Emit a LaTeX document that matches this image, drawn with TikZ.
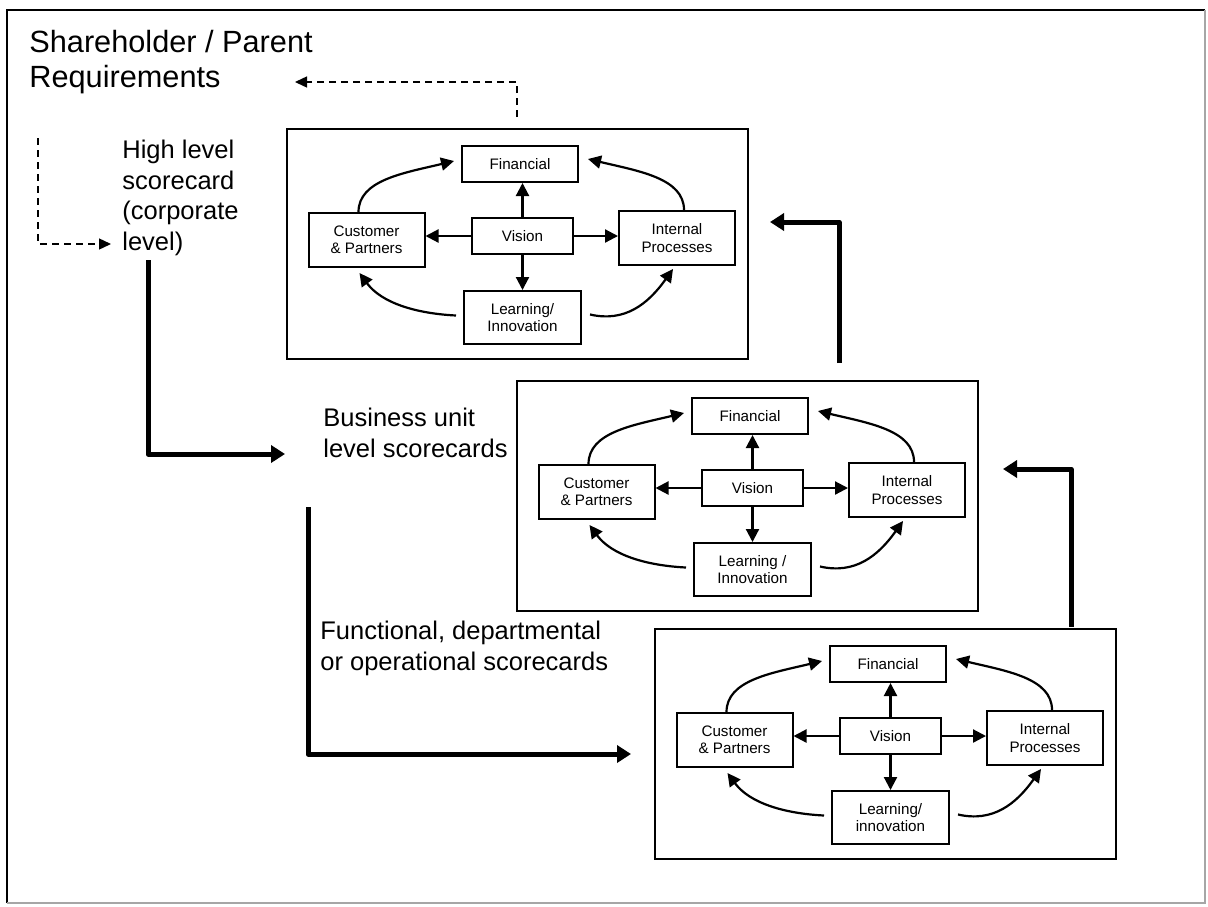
\documentclass[tikz,border=0pt]{standalone}
\usepackage{fontspec}
\setmainfont{Liberation Sans}
\usetikzlibrary{arrows.meta,calc}

\tikzset{
  panel/.style={draw, line width=0.9pt, minimum width=230.5pt, minimum height=115pt,
    inner sep=0pt, anchor=north west},
  cell/.style={draw, line width=1pt, align=center, inner sep=0pt,
    font=\fontsize{7.6}{8.6}\selectfont},
  link/.style={line width=1.1pt, -{Triangle[length=6.5pt,width=6.5pt]}},
  flow/.style={line width=2.5pt, line join=round, -{Triangle[length=7pt,width=8.5pt]}},
  feedback/.style={line width=0.7pt, dash pattern=on 3.5pt off 2.5pt,
    -{Triangle[length=6pt,width=5.5pt]}},
  heading/.style={anchor=base west, align=left, inner sep=0pt},
  bigtext/.style={font=\fontsize{15.35}{17.5}\selectfont},
  midtext/.style={font=\fontsize{12.75}{15.25}\selectfont},
}

% One balanced-scorecard panel: #1,#2 = top-left corner, #3 = name suffix, #4 = learning label
\newcommand{\bscpanel}[4]{%
  \begin{scope}[shift={(#1,#2)}]
    \node[panel] (board#3) at (0,0) {};
    \node[cell, minimum width=58pt, minimum height=18pt] (fin#3) at (234,36) {Financial};
    \node[cell, minimum width=58pt, minimum height=27pt] (cust#3) at (80.5,112) {Customer\\\& Partners};
    \node[cell, minimum width=50.5pt, minimum height=18pt] (vis#3) at (236.5,108) {Vision};
    \node[cell, minimum width=58pt, minimum height=27pt] (int#3) at (391,110) {Internal\\Processes};
    \node[cell, minimum width=58.5pt, minimum height=26.5pt] (learn#3) at (236.5,189.5) {#4};
  \end{scope}
  % spokes from the vision
  \draw[link] (vis#3.north) -- (vis#3.north |- fin#3.south);
  \draw[link] (vis#3.south) -- (vis#3.south |- learn#3.north);
  \draw[link] (vis#3.west) -- (vis#3.west -| cust#3.east);
  \draw[link] (vis#3.east) -- (vis#3.east -| int#3.west);
  % the loop round the outside
  \draw[link] ($(cust#3.north)+(-8,0)$) .. controls +(0,-32) and +(-50,12) .. ($(fin#3.west)+(-7,-3)$);
  \draw[link] ($(int#3.north)+(7,0)$) .. controls +(0,-32) and +(50,12) .. ($(fin#3.east)+(9,-5)$);
  \draw[link] ($(learn#3.west)+(-7,-2)$) .. controls +(-40,-2) and +(22,30) .. ($(cust#3.south)+(-7,5)$);
  \draw[link] ($(learn#3.east)+(8,-3)$) .. controls +(35,8) and +(-25,35) .. ($(int#3.south)+(-4,3)$);
}

\begin{document}
\begin{tikzpicture}[x=0.5pt,y=-0.5pt]
  \useasboundingbox (0,0) rectangle (1208,906);
  \fill[white] (0,0) rectangle (1208,906);
  % outer frame
  \draw[line width=0.9pt] (7,903) -- (7,10) -- (1205,10);
  \draw[line width=0.6pt, black!35] (1205,10) -- (1205,903) -- (7,903);

  % headings (anchored on the baseline of their last line)
  \node[heading, bigtext] (parent) at (29,87) {Shareholder / Parent\\Requirements};
  \node[heading, midtext] (corp) at (122,250) {High level\\scorecard\\(corporate\\level)};
  \node[heading, midtext] (unit) at (323,457) {Business unit\\level scorecards};
  \node[heading, midtext] (func) at (320,670) {Functional, departmental\\or operational scorecards};

  % the three scorecard panels
  \bscpanel{286}{128}{A}{Learning/\\Innovation}
  \bscpanel{516}{380}{B}{Learning /\\Innovation}
  \bscpanel{654}{628}{C}{Learning/\\innovation}

  % cascade downwards
  \coordinate (corp-down) at (148,260);
  \coordinate (unit-in) at (285,454);
  \draw[flow] (corp-down) |- (unit-in);
  \coordinate (unit-down) at (308,507);
  \coordinate (func-in) at (631,754);
  \draw[flow] (unit-down) |- (func-in);

  % reporting upwards
  \coordinate (upB) at (839,363);
  \coordinate (upB-in) at (770,222);
  \draw[flow] (upB) |- (upB-in);
  \coordinate (upC) at (1071,627);
  \coordinate (upC-in) at (1003,469);
  \draw[flow] (upC) |- (upC-in);

  % feedback to the shareholders
  \coordinate (fbA) at (517,117);
  \coordinate (fbA-in) at (295,82);
  \draw[feedback] (fbA) |- (fbA-in);
  \coordinate (fbP) at (38,138);
  \coordinate (fbP-in) at (111,244);
  \draw[feedback] (fbP) |- (fbP-in);
\end{tikzpicture}
\end{document}
